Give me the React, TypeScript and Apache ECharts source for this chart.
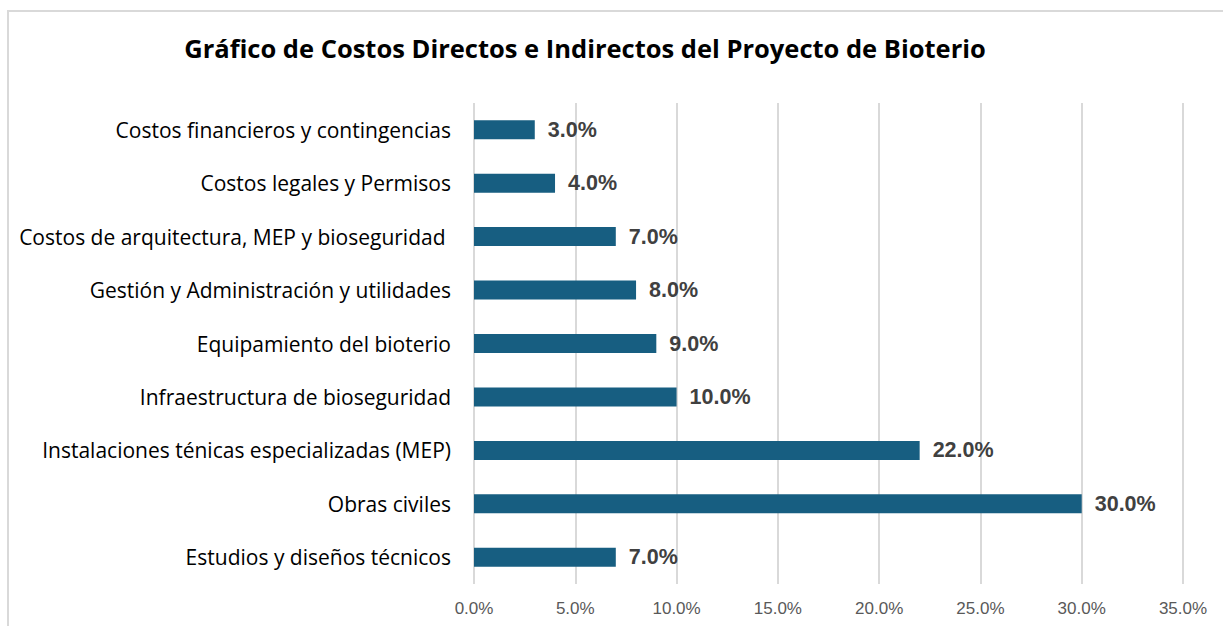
import React, { useEffect, useRef } from "react";
import * as echarts from "echarts";

const titleText = "Gráfico de Costos Directos e Indirectos del Proyecto de Bioterio";
const categories = [
  "Estudios y diseños técnicos",
  "Obras civiles",
  "Instalaciones ténicas especializadas (MEP)",
  "Infraestructura de bioseguridad",
  "Equipamiento del bioterio",
  "Gestión y Administración y utilidades",
  "Costos de arquitectura, MEP y bioseguridad ",
  "Costos legales y Permisos",
  "Costos financieros y contingencias",
];
const values = [7, 30, 22, 10, 9, 8, 7, 4, 3];
const axisMin = 0;
const axisMax = 35;
const axisStep = 5;

export default function App() {
  const ref = useRef<HTMLDivElement>(null);
  useEffect(() => {
    if (!ref.current) return;
    const chart = echarts.init(ref.current, undefined, { renderer: "svg" });
    chart.setOption({
      animation: false,
      backgroundColor: "#ffffff",
      graphic: [
        {
          type: "rect",
          shape: { x: 8, y: 11, width: 1240, height: 640 },
          style: { fill: "none", stroke: "#d9d9d9", lineWidth: 2 },
          silent: true,
        },
        {
          type: "text",
          x: 585,
          y: 48,
          silent: true,
          style: {
            text: titleText,
            textAlign: "center",
            textVerticalAlign: "middle",
            fontFamily: "Open Sans",
            fontWeight: "bold",
            fontSize: 25.5,
            fill: "#000000",
          },
        },
      ],
      grid: { left: 474, right: 40, top: 103, bottom: 42, containLabel: false },
      xAxis: {
        type: "value",
        min: axisMin,
        max: axisMax,
        interval: axisStep,
        axisLine: { show: false },
        axisTick: { show: false },
        splitLine: { show: true, lineStyle: { color: "#d9d9d9", width: 2 } },
        axisLabel: {
          margin: 16,
          color: "#595959",
          fontSize: 17,
          fontFamily: "Liberation Sans",
          formatter: (v: number) => v.toFixed(1) + "%",
        },
      },
      yAxis: {
        type: "category",
        data: categories,
        axisLine: { show: false },
        axisTick: { show: false },
        axisLabel: {
          margin: 23,
          color: "#000000",
          fontSize: 21,
          fontFamily: "Open Sans",
        },
      },
      series: [
        {
          type: "bar",
          data: values,
          barWidth: 19,
          itemStyle: { color: "#175e81" },
          label: {
            show: true,
            position: "right",
            distance: 13,
            color: "#404040",
            fontWeight: "bold",
            fontSize: 21.5,
            fontFamily: "Liberation Sans",
            formatter: (p: any) => Number(p.value).toFixed(1) + "%",
          },
        },
      ],
    });
    return () => chart.dispose();
  }, []);
  return (
    <div
      ref={ref}
      style={{ position: "absolute", left: 0, top: 0, width: 1223, height: 626 }}
    />
  );
}
